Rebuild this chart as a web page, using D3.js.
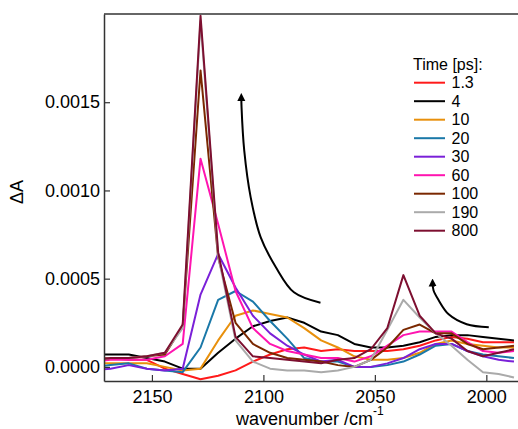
<!DOCTYPE html>
<html>
<head>
<meta charset="utf-8">
<script src="https://cdn.jsdelivr.net/npm/d3@7"></script>
<style>
    body { margin: 0; background: #fff; }
    text { font-family: "Liberation Sans", Arial, sans-serif; fill: #000; }
</style>
</head>
<body>
<div id="chart"></div>
<script>
const width = 518;
const height = 429;

// wavenumber grid (cm^-1)
const wavenumbers = [2176.9, 2168.6, 2160.4, 2152.3, 2144.2, 2136.2, 2128.2, 2120.3, 2112.5, 2104.7,
    2097.0, 2089.3, 2081.7, 2074.1, 2066.6, 2059.2, 2051.8, 2044.4, 2037.2, 2029.9,
    2022.7, 2015.6, 2008.5, 2001.5, 1994.5, 1987.6];

// delay times and trace colours
const times = ["1.3", "4", "10", "20", "30", "60", "100", "190", "800"];
const colors = ["#ff1a1a", "#000000", "#e8900c", "#1a78a8", "#7a20d8", "#ff14b0", "#7a2800", "#aaaaaa", "#7d0f30"];

// ΔA traces
const dA_1p3 = [5e-5, 5e-5, 4e-5, 4e-5, -1e-5, -4e-5, -7e-5, -5e-5, -2e-5, 3e-5, 7e-5, 10e-5, 11e-5, 9e-5, 10e-5, 9e-5, 9e-5, 9e-5, 10e-5, 12e-5, 15e-5, 17e-5, 16e-5, 14e-5, 14e-5, 14e-5];
const dA_4 = [7e-5, 7e-5, 7e-5, 5e-5, 3e-5, -1e-5, -1e-5, 8e-5, 16e-5, 23e-5, 26e-5, 28e-5, 25e-5, 20e-5, 18e-5, 13e-5, 11e-5, 11e-5, 12e-5, 14e-5, 17e-5, 18e-5, 18e-5, 17e-5, 16e-5, 15e-5];
const dA_10 = [2e-5, 2e-5, 2e-5, 2e-5, 0, -2e-5, -1e-5, 15e-5, 29e-5, 32e-5, 30e-5, 28e-5, 22e-5, 15e-5, 11e-5, 6e-5, 4e-5, 4e-5, 5e-5, 8e-5, 13e-5, 15e-5, 13e-5, 12e-5, 11e-5, 11e-5];
const dA_20 = [0, 1e-5, 2e-5, -1e-5, -2e-5, -3e-5, 11e-5, 38e-5, 43e-5, 37e-5, 26e-5, 16e-5, 5e-5, 3e-5, 3e-5, 0, 0, 1e-5, 3e-5, 7e-5, 12e-5, 13e-5, 9e-5, 7e-5, 6e-5, 5e-5];
const dA_30 = [-2e-5, -1e-5, 1e-5, -1e-5, -2e-5, -1e-5, 41e-5, 64e-5, 45e-5, 29e-5, 19e-5, 12e-5, 7e-5, 3e-5, 4e-5, 0, 0, 2e-5, 5e-5, 10e-5, 13e-5, 13e-5, 9e-5, 6e-5, 4e-5, 3e-5];
const dA_60 = [3e-5, 4e-5, 4e-5, 4e-5, 6e-5, 13e-5, 118e-5, 81e-5, 43e-5, 22e-5, 13e-5, 9e-5, 7e-5, 5e-5, 5e-5, 3e-5, 6e-5, 12e-5, 18e-5, 20e-5, 20e-5, 20e-5, 14e-5, 9e-5, 8e-5, 9e-5];
const dA_100 = [4e-5, 5e-5, 5e-5, 6e-5, 7e-5, 23e-5, 168e-5, 62e-5, 25e-5, 13e-5, 8e-5, 5e-5, 4e-5, 3e-5, 1e-5, 0, 4e-5, 11e-5, 21e-5, 24e-5, 19e-5, 19e-5, 13e-5, 10e-5, 11e-5, 12e-5];
const dA_190 = [4e-5, 5e-5, 5e-5, 6e-5, 8e-5, 22e-5, 196e-5, 63e-5, 15e-5, 3e-5, -1e-5, -2e-5, -2e-5, -3e-5, -2e-5, 0, 4e-5, 21e-5, 38e-5, 28e-5, 19e-5, 12e-5, 4e-5, -3e-5, -4e-5, -6e-5];
const dA_800 = [4e-5, 5e-5, 5e-5, 6e-5, 8e-5, 24e-5, 199e-5, 65e-5, 17e-5, 6e-5, 5e-5, 4e-5, 3e-5, 2e-5, 4e-5, 5e-5, 10e-5, 22e-5, 52e-5, 29e-5, 19e-5, 16e-5, 9e-5, 6e-5, 8e-5, 10e-5];

const traces = [dA_1p3, dA_4, dA_10, dA_20, dA_30, dA_60, dA_100, dA_190, dA_800];

const xTicks = [2150, 2100, 2050, 2000];
const yTicks = [0, 0.0005, 0.0010, 0.0015];

// hand-drawn arrows (wavenumber, ΔA)
const arrowUp = [[2074.4, 0.000364], [2086.3, 0.000423], [2094.4, 0.000565], [2101.2, 0.000734],
    [2105.7, 0.000961], [2108.6, 0.001227], [2109.8, 0.001471], [2109.9, 0.001530]];
const arrowRight = [[1998.9, 0.000225], [2008.8, 0.000242], [2016.9, 0.000298], [2021.4, 0.000378],
    [2023.7, 0.000434], [2024.1, 0.000478]];

const margin = { top: 14, left: 104, bottom: 381, right: 522 };

const svg = d3.select("#chart")
    .append("svg")
    .attr("width", width)
    .attr("height", height);

const x = d3.scaleLinear().domain([2171.5, 1984]).range([margin.left, margin.right]);
const y = d3.scaleLinear().domain([-0.00008, 0.002]).range([margin.bottom, margin.top]);

svg.append("clipPath").attr("id", "clip")
    .append("rect")
    .attr("x", margin.left).attr("y", margin.top)
    .attr("width", margin.right - margin.left).attr("height", margin.bottom - margin.top);

const line = d3.line()
    .x((d, i) => x(wavenumbers[i]))
    .y(d => y(d));

svg.append("g")
    .attr("clip-path", "url(#clip)")
    .selectAll("path")
    .data(traces)
    .enter().append("path")
    .attr("d", line)
    .attr("fill", "none")
    .attr("stroke", (d, i) => colors[i])
    .attr("stroke-width", 2)
    .attr("stroke-linejoin", "round");

// axes (ticks point inward)
const xAxis = svg.append("g")
    .attr("transform", `translate(0,${margin.bottom})`)
    .call(d3.axisBottom(x).tickValues(xTicks).tickFormat(d3.format("d")).tickSizeInner(-6).tickSizeOuter(0).tickPadding(9));

const yAxis = svg.append("g")
    .attr("transform", `translate(${margin.left},0)`)
    .call(d3.axisLeft(y).tickValues(yTicks).tickFormat(d3.format(".4f")).tickSizeInner(-6).tickSizeOuter(0).tickPadding(4));

[xAxis, yAxis].forEach(a => {
    a.select(".domain").attr("stroke", "#333").attr("stroke-width", 1.5);
    a.selectAll(".tick line").attr("stroke", "#333").attr("stroke-width", 1.2);
    a.selectAll(".tick text").style("font-size", "18px").attr("fill", "#000");
});

// top frame line
svg.append("line")
    .attr("x1", margin.left).attr("x2", width)
    .attr("y1", margin.top).attr("y2", margin.top)
    .attr("stroke", "#333").attr("stroke-width", 1.5);

// axis titles
svg.append("text")
    .attr("transform", "translate(23,192) rotate(-90)")
    .attr("text-anchor", "middle")
    .style("font-size", "18px")
    .text("\u0394A");

const xt = svg.append("text")
    .attr("x", 236).attr("y", 425)
    .style("font-size", "18px")
    .text("wavenumber /cm");
xt.append("tspan")
    .attr("dy", -10)
    .style("font-size", "12px")
    .text("-1");

// arrows
svg.append("defs").append("marker")
    .attr("id", "head")
    .attr("viewBox", "0 0 10 10")
    .attr("refX", 5).attr("refY", 5)
    .attr("markerWidth", 4).attr("markerHeight", 5)
    .attr("orient", "auto")
    .append("path")
    .attr("d", "M0,0 L10,5 L0,10 Z")
    .attr("fill", "#000");

const arrowLine = d3.line()
    .x(d => x(d[0]))
    .y(d => y(d[1]))
    .curve(d3.curveCatmullRom);

svg.selectAll(".arrow")
    .data([arrowUp, arrowRight])
    .enter().append("path")
    .attr("class", "arrow")
    .attr("d", arrowLine)
    .attr("fill", "none")
    .attr("stroke", "#000")
    .attr("stroke-width", 2)
    .attr("marker-end", "url(#head)");

// legend
const legend = svg.append("g").attr("transform", "translate(413,0)");
legend.append("text")
    .attr("x", 0).attr("y", 70)
    .style("font-size", "16px")
    .text("Time [ps]:");

const rows = legend.selectAll(".row")
    .data(times)
    .enter().append("g")
    .attr("class", "row")
    .attr("transform", (d, i) => `translate(0,${82.7 + i * 18.5})`);

rows.append("line")
    .attr("x1", 1).attr("x2", 32)
    .attr("stroke", (d, i) => colors[i])
    .attr("stroke-width", 2);

rows.append("text")
    .attr("x", 38.5).attr("dy", "0.35em")
    .style("font-size", "16px")
    .text(d => d);
</script>
</body>
</html>
